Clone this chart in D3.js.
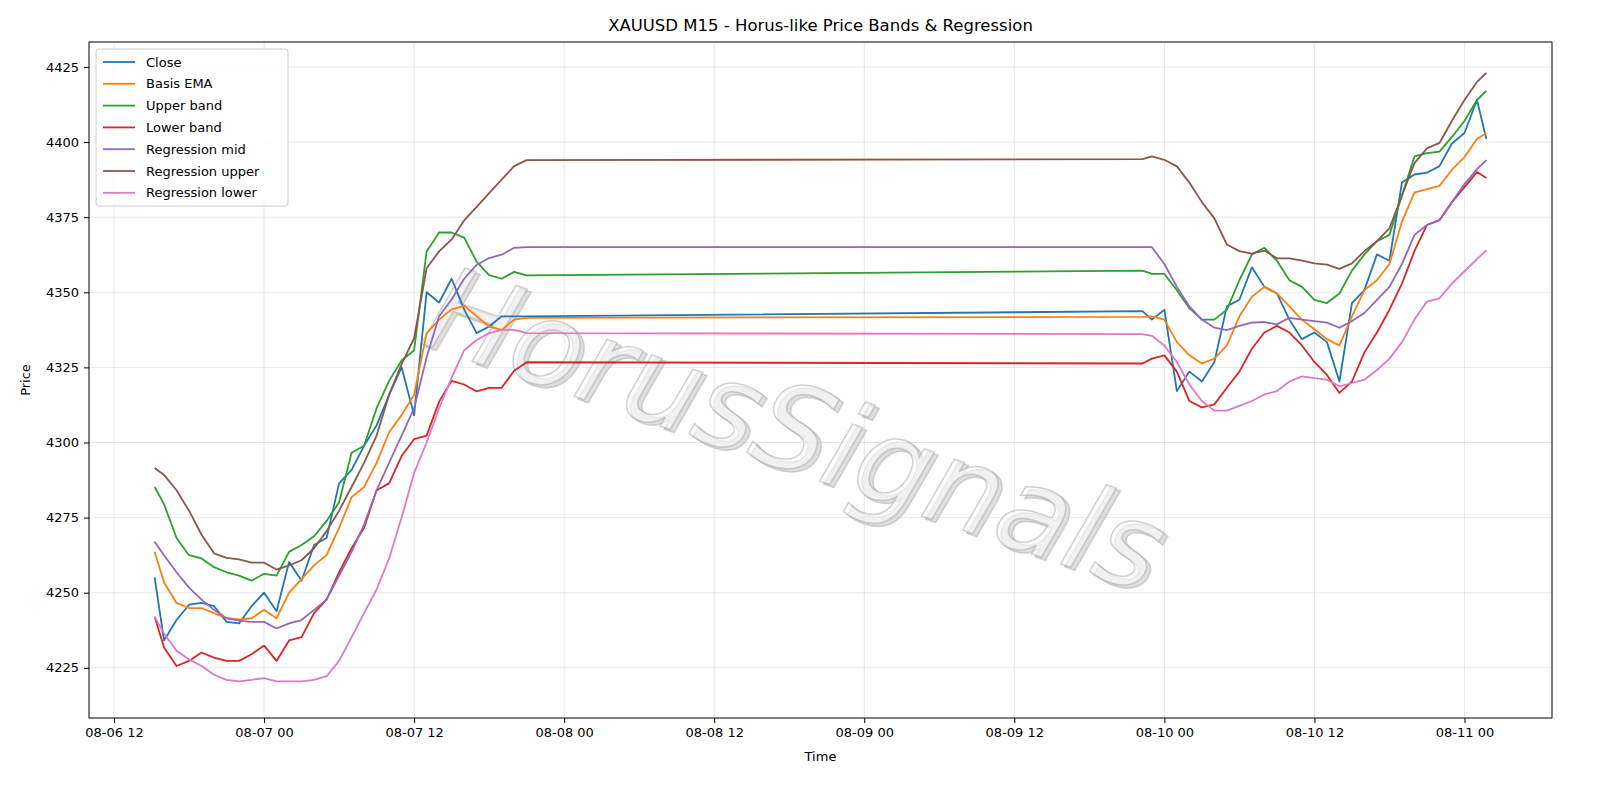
<!DOCTYPE html>
<html>
<head>
<meta charset="utf-8">
<script src="https://cdn.jsdelivr.net/npm/d3@7"></script>
<style>
  body { margin: 0; background: #fff; font-family: "DejaVu Sans", sans-serif; }
  .tick text { font-size: 13px; font-family: "DejaVu Sans", sans-serif; }
</style>
</head>
<body>
<svg id="chart" width="1600" height="800"></svg>
<script>
// time stamps (two trading sessions, weekend gap in between)
var times1 = ["08-06 15:15","08-06 16:00","08-06 17:00","08-06 18:00","08-06 19:00","08-06 20:00","08-06 21:00","08-06 22:00","08-06 23:00",
  "08-07 00:00","08-07 01:00","08-07 02:00","08-07 03:00","08-07 04:00","08-07 05:00","08-07 06:00","08-07 07:00","08-07 08:00","08-07 09:00",
  "08-07 10:00","08-07 11:00","08-07 12:00","08-07 13:00","08-07 14:00","08-07 15:00","08-07 16:00","08-07 17:00","08-07 18:00","08-07 19:00",
  "08-07 20:00","08-07 21:00"];
var times2 = ["08-09 22:15","08-09 23:00",
  "08-10 00:00","08-10 01:00","08-10 02:00","08-10 03:00","08-10 04:00","08-10 05:00","08-10 06:00","08-10 07:00","08-10 08:00","08-10 09:00",
  "08-10 10:00","08-10 11:00","08-10 12:00","08-10 13:00","08-10 14:00","08-10 15:00","08-10 16:00","08-10 17:00","08-10 18:00","08-10 19:00",
  "08-10 20:00","08-10 21:00","08-10 22:00","08-10 23:00","08-11 00:00","08-11 01:00","08-11 01:45"];

var close = [4255.1,4234.1,4240.9,4246,4246.6,4245.5,4240.3,4239.8,4245.5,4250,4243.8,4260.2,4254,4265.9,4268.2,4286.4,4290.9,4298.9,4305.7,4315.9,4325,4309.1,4350,4346.6,4354.5,4344.3,4336.4,4338.6,4342,4342,4342,
  4343.7,4340.9,4344.2,4317.1,4323.6,4320.3,4326.8,4345.3,4347.5,4358.3,4351.8,4349.6,4340.9,4334.4,4336.6,4333.4,4320.3,4346.4,4350.7,4362.6,4360.5,4386.5,4389.2,4389.8,4392,4399.5,4403,4414,4401];
var basisEma = [4263.6,4253.4,4246.6,4244.9,4244.9,4243.2,4241.5,4241.1,4241.5,4244.3,4241.5,4250,4254.5,4259.1,4262.5,4271.6,4281.8,4285.2,4293.2,4303.4,4309.1,4315.9,4336.4,4340.9,4344.3,4345.5,4342,4338.6,4337.5,4340.9,4341.5,
  4341.8,4342,4340.9,4333.4,4329,4326.3,4327.9,4332.3,4342,4348.5,4351.8,4349.6,4345.3,4340.9,4337.7,4334.4,4332.3,4342,4350.7,4354,4359.4,4373.5,4383.2,4384.3,4385.4,4390.8,4395,4401,4403];
var upperBand = [4285.2,4279.5,4268.2,4262.5,4261.4,4258.5,4256.8,4255.7,4254,4256.3,4255.7,4263.6,4265.9,4268.8,4273.9,4280.1,4296.6,4298.9,4311.4,4320.5,4327.3,4330.7,4363.6,4369.9,4369.9,4368.2,4360.2,4355.7,4354.5,4356.8,4355.6,
  4357.2,4356.1,4356.1,4350.7,4344.7,4340.9,4340.9,4344.2,4354,4362.6,4364.8,4360.5,4354,4351.8,4347.5,4346.4,4349.6,4357.2,4362.6,4367,4369.1,4382.2,4395.2,4396.3,4396.8,4401.7,4407,4414,4417];
var lowerBand = [4242,4231.8,4225.6,4227.3,4230.1,4228.4,4227.3,4227.3,4229.5,4232.4,4227.3,4234.1,4235.2,4243.2,4247.7,4256.8,4264.8,4271.6,4284.1,4286.4,4295.5,4301.1,4302.3,4313.6,4320.5,4319.3,4317,4318.2,4318.2,4323.9,4326.7,
  4326.3,4327.9,4329,4323.6,4313.8,4311.7,4312.7,4318.2,4323.6,4331.2,4336.6,4338.8,4336.6,4332.3,4326.8,4322.5,4316.5,4320.3,4330,4336.6,4344.2,4352.9,4363.7,4372.4,4374,4380,4385,4390,4388];
var regMid = [4267,4262.5,4256.8,4251.7,4247.7,4244.3,4241.5,4240.7,4240.3,4240.3,4238.1,4239.8,4240.9,4244.3,4247.7,4255.7,4263.6,4272.7,4284.1,4293.2,4302.3,4311.4,4328.4,4342,4347.7,4354.5,4359.1,4361.4,4362.5,4364.8,4365,
  4365,4365,4359.4,4351.8,4345.3,4340.9,4338.2,4337.4,4338.8,4339.9,4340.1,4339.3,4341.5,4340.9,4340.4,4339.9,4338.2,4340.4,4343.1,4347.5,4351.8,4359.4,4369.1,4372.4,4374,4380,4386,4391,4394];
var regUpper = [4291.5,4289.2,4284.1,4277.3,4269.3,4263.1,4261.6,4261.1,4260,4260,4257.7,4259.1,4260.8,4264.8,4270.5,4277.3,4285.2,4293.2,4302.3,4315.9,4326.1,4334.7,4358,4363.6,4367.6,4373.9,4378.4,4383,4387.5,4392,4394,
  4394.3,4395.2,4394.1,4391.9,4386.5,4380,4374.6,4365.9,4363.7,4362.9,4363.9,4361.3,4361.3,4360.5,4359.6,4359.2,4357.8,4359.6,4363.7,4367,4371.3,4382.2,4393,4397.9,4399.7,4407.1,4414,4420,4423];
var regLower = [4242,4236.4,4230.7,4227.8,4225.6,4222.7,4221,4220.5,4221,4221.6,4220.5,4220.5,4220.5,4221,4222.2,4227.3,4235.2,4243.2,4251.1,4261.4,4275,4289.8,4300,4311.4,4321.6,4330.7,4334.1,4336.4,4337.5,4337.5,4336.4,
  4336.1,4335.5,4332.3,4326.8,4319.3,4313.8,4310.6,4310.6,4312.2,4313.8,4316,4317.1,4320.3,4322,4321.4,4320.9,4318.7,4319.8,4320.9,4324.1,4327.9,4333.4,4340.9,4346.9,4348,4352.9,4357,4361,4364];

var yTicks = [4225,4250,4275,4300,4325,4350,4375,4400,4425];
var seriesNames = ["Close","Basis EMA","Upper band","Lower band","Regression mid","Regression upper","Regression lower"];
var seriesData = [close, basisEma, upperBand, lowerBand, regMid, regUpper, regLower];
var colors = ["#1f77b4","#ff7f0e","#2ca02c","#d62728","#9467bd","#8c564b","#e377c2"];

function draw() {
  var parse = d3.timeParse("%Y-%m-%d %H:%M");
  var dates = times1.concat(times2).map(function(t) { return parse("2026-" + t); });

  var svg = d3.select("#chart");
  var mL = 89, mR = 1552, mT = 42, mB = 718;

  var x = d3.scaleTime()
    .domain([parse("2026-08-06 10:00"), parse("2026-08-11 07:00")])
    .range([mL, mR]);
  var y = d3.scaleLinear().domain([4208.3, 4433.3]).range([mB, mT]);

  // grid
  svg.append("g").selectAll("line").data(x.ticks(d3.timeHour.every(12))).enter().append("line")
    .attr("x1", function(d) { return x(d); }).attr("x2", function(d) { return x(d); })
    .attr("y1", mT).attr("y2", mB).attr("stroke", "#b0b0b0").attr("stroke-opacity", 0.3);
  svg.append("g").selectAll("line").data(yTicks).enter().append("line")
    .attr("x1", mL).attr("x2", mR)
    .attr("y1", function(d) { return y(d); }).attr("y2", function(d) { return y(d); })
    .attr("stroke", "#b0b0b0").attr("stroke-opacity", 0.3);

  // watermark: shadow then outlined text
  [[4, 3, "#c4c4c4", "#b0b0b0"], [0, 0, "#fff", "#aaa"]].forEach(function(w) {
    svg.append("text")
      .attr("transform", "translate(" + (782 + w[0]) + "," + (468 + w[1]) + ") rotate(19)")
      .attr("text-anchor", "middle")
      .attr("font-family", "DejaVu Sans, sans-serif")
      .attr("font-size", 118)
      .attr("font-style", "italic")
      .attr("fill", w[2]).attr("fill-opacity", 0.55)
      .attr("stroke", w[3]).attr("stroke-opacity", 0.55).attr("stroke-width", 1.5)
      .text("HorusSignals");
  });

  var line = d3.line()
    .x(function(d, i) { return x(dates[i]); })
    .y(function(d) { return y(d); });

  seriesData.forEach(function(s, k) {
    svg.append("path").datum(s)
      .attr("d", line)
      .attr("fill", "none")
      .attr("stroke", colors[k])
      .attr("stroke-width", 1.8)
      .attr("stroke-linejoin", "round");
  });

  // frame & axes
  svg.append("rect").attr("x", mL).attr("y", mT).attr("width", mR - mL).attr("height", mB - mT)
    .attr("fill", "none").attr("stroke", "#000").attr("stroke-width", 1);

  svg.append("g").attr("transform", "translate(0," + mB + ")")
    .call(d3.axisBottom(x).ticks(d3.timeHour.every(12)).tickFormat(d3.timeFormat("%m-%d %H")).tickSizeOuter(0).tickSize(5).tickPadding(5))
    .call(function(g) { g.select(".domain").remove(); });
  svg.append("g").attr("transform", "translate(" + mL + ",0)")
    .call(d3.axisLeft(y).tickValues(yTicks).tickFormat(d3.format("d")).tickSizeOuter(0).tickSize(5).tickPadding(5))
    .call(function(g) { g.select(".domain").remove(); });

  svg.append("text").attr("x", (mL + mR) / 2).attr("y", 31).attr("text-anchor", "middle")
    .attr("font-size", 16.5).text("XAUUSD M15 - Horus-like Price Bands & Regression");
  svg.append("text").attr("x", (mL + mR) / 2).attr("y", 761).attr("text-anchor", "middle")
    .attr("font-size", 13).text("Time");
  svg.append("text").attr("transform", "translate(30," + (mT + mB) / 2 + ") rotate(-90)")
    .attr("text-anchor", "middle").attr("font-size", 13).text("Price");

  // legend
  var lg = svg.append("g").attr("transform", "translate(96,49)");
  lg.append("rect").attr("width", 192).attr("height", 157).attr("rx", 3)
    .attr("fill", "#fff").attr("fill-opacity", 0.8).attr("stroke", "#ccc");
  seriesNames.forEach(function(n, i) {
    var yy = 13 + i * 21.8;
    lg.append("line").attr("x1", 7).attr("x2", 39).attr("y1", yy).attr("y2", yy)
      .attr("stroke", colors[i]).attr("stroke-width", 1.8);
    lg.append("text").attr("x", 50).attr("y", yy + 4.5).attr("font-size", 13).text(n);
  });
}
draw();
</script>
</body>
</html>
